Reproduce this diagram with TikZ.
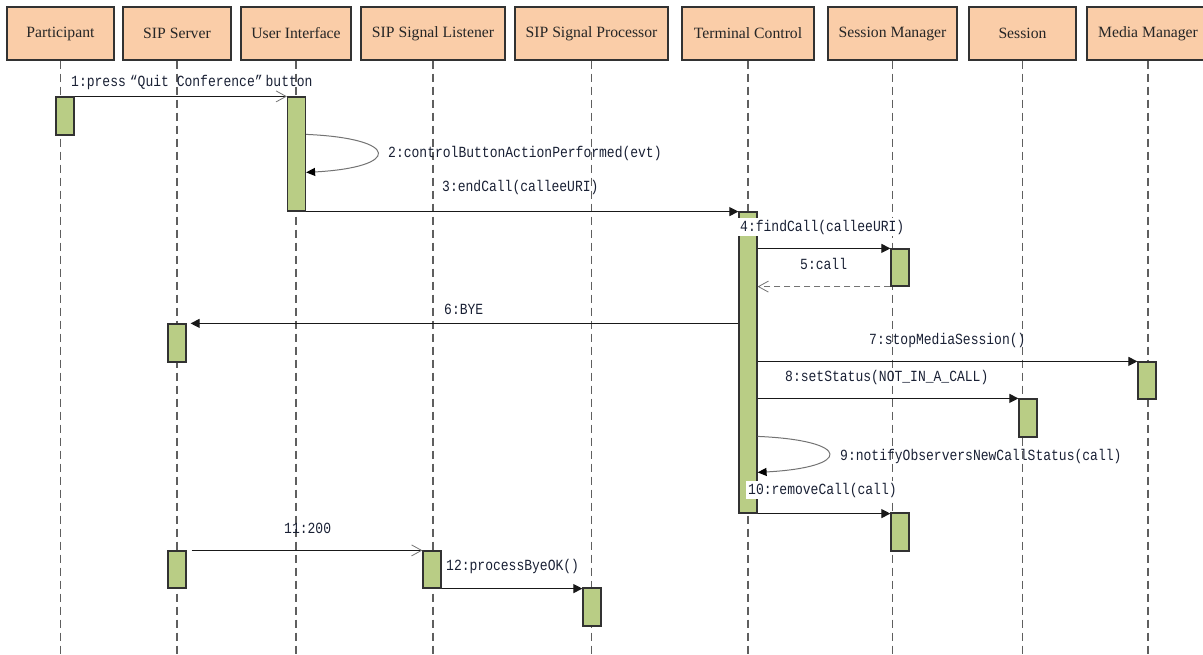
\documentclass[tikz,border=0pt]{standalone}
\usepackage{fontspec}
\setmainfont{Liberation Serif}
\newfontfamily\msgfont[FakeStretch=0.84]{Liberation Mono}
\usetikzlibrary{arrows.meta,calc}

\definecolor{headfill}{RGB}{250,205,168}
\definecolor{actfill}{RGB}{185,205,133}
\definecolor{edgeclr}{RGB}{50,50,50}
\definecolor{lifeclr}{RGB}{95,95,95}
\definecolor{msgtext}{RGB}{25,32,52}
\definecolor{loopclr}{RGB}{115,115,115}

\begin{document}
\begin{tikzpicture}[x=1pt,y=-1pt,
  head/.style={draw=edgeclr, line width=1.3pt, fill=headfill, minimum height=53pt,
    inner sep=0pt, font=\fontsize{15.7}{18}\selectfont, text=black!85},
  lifeline/.style={draw=lifeclr, line width=1.2pt, dash pattern=on 8pt off 5pt},
  act/.style={draw=edgeclr, line width=1.2pt, fill=actfill, minimum width=18pt, inner sep=0pt},
  msg/.style={font=\msgfont\fontsize{15.5}{18}\selectfont, text=msgtext, anchor=west, inner sep=0pt},
  msgbg/.style={msg, fill=white, inner sep=2pt},
  call/.style={draw=black!90, line width=1.1pt, -{Triangle[length=9pt,width=9pt]}},
  async/.style={draw=black!90, line width=1.1pt, -{Straight Barb[length=10pt,width=11pt,line width=0.8pt,color=loopclr]}},
  reply/.style={draw=loopclr, line width=1.1pt, dash pattern=on 6pt off 4pt, -{Straight Barb[length=10pt,width=11pt,line width=0.8pt]}},
  selfcall/.style={draw=loopclr, line width=1.0pt, -{Triangle[length=9pt,width=8pt,color=black]}}
]
\useasboundingbox (0,0) rectangle (1203,655);
\coordinate (bottom) at (0,655);

% participants
\node[head, minimum width=107pt] (hpa) at (60.5,33.5)  {Participant};
\node[head, minimum width=108pt] (hss) at (177,33.5)   {SIP Server};
\node[head, minimum width=110pt] (hui) at (296,33.5)   {User Interface};
\node[head, minimum width=144pt] (hli) at (433,33.5)   {SIP Signal Listener};
\node[head, minimum width=153pt] (hpr) at (591.5,33.5) {SIP Signal Processor};
\node[head, minimum width=132pt] (htc) at (748,33.5)   {Terminal Control};
\node[head, minimum width=129pt] (hsm) at (892.5,33.5) {Session Manager};
\node[head, minimum width=107pt] (hse) at (1022.5,33.5){Session};
\node[head, minimum width=122pt] (hmm) at (1148,33.5)  {Media Manager};

% lifelines
\foreach \h in {hpa,hss,hui,hli,hpr,htc,hsm,hse,hmm}
  \draw[lifeline] (\h.south) -- (\h.south |- bottom);

% activation bars
\node[act, minimum height=38pt]  (pa1) at (65,116)     {};
\node[act, minimum height=114pt] (ui1) at (296.5,154)  {};
\node[act, minimum height=301pt] (tc1) at (748,362.5)  {};
\node[act, minimum height=37pt]  (sm1) at (900,267.5)  {};
\node[act, minimum height=38pt]  (ss1) at (177,343)    {};
\node[act, minimum height=37pt]  (mm1) at (1147,380.5) {};
\node[act, minimum height=38pt]  (se1) at (1028,418)   {};
\node[act, minimum height=38pt]  (sm2) at (900,532)    {};
\node[act, minimum height=37pt]  (ss2) at (177,569.5)  {};
\node[act, minimum height=37pt]  (li1) at (432,569.5)  {};
\node[act, minimum height=38pt]  (pr1) at (592,607)    {};

% messages
\draw[async] (pa1.north east) -- (pa1.north east -| ui1.west);
\draw[selfcall] ($(ui1.north east)+(0,38)$) .. controls +(95,4) and +(95,-5) .. ($(ui1.north east)+(0,76)$);
\draw[call] (ui1.south east) -- (ui1.south east -| tc1.west);
\draw[call] (tc1.east |- sm1.north) -- (sm1.north west);
\draw[reply] (sm1.south west) -- (tc1.east |- sm1.south);
\draw[call, shorten >=4pt] (tc1.west |- ss1.north) -- (ss1.north east);
\draw[call] (tc1.east |- mm1.north) -- (mm1.north west);
\draw[call] (tc1.east |- se1.north) -- (se1.north west);
\draw[selfcall] ($(tc1.north east)+(0,225)$) .. controls +(95,4) and +(95,-5) .. ($(tc1.north east)+(0,261)$);
\draw[call] (tc1.south east) -- (tc1.south east -| sm2.west);
\draw[async, shorten <=5pt] (ss2.north east) -- (ss2.north east -| li1.west);
\draw[call] (li1.south east) -- (li1.south east -| pr1.west);

% message labels
\node[msg]   (l1)  at (71,82)   {1:press\hspace{4pt}“Quit Conference”\hspace{3pt}button};
\node[msg]   (l2)  at (388,153) {2:controlButtonActionPerformed(evt)};
\node[msg]   (l3)  at (442,187) {3:endCall(calleeURI)};
\node[msgbg] (l4)  at (738,227) {4:findCall(calleeURI)};
\node[msg]   (l5)  at (800,264) {5:call};
\node[msg]   (l6)  at (444,309) {6:BYE};
\node[msg]   (l7)  at (869,340) {7:stopMediaSession()};
\node[msg]   (l8)  at (785,377) {8:setStatus(NOT\_IN\_A\_CALL)};
\node[msg]   (l9)  at (840,456) {9:notifyObserversNewCallStatus(call)};
\node[msgbg] (l10) at (746,490) {10:removeCall(call)};
\node[msg]   (l11) at (284,528) {11:200};
\node[msg]   (l12) at (446,566) {12:processByeOK()};
\end{tikzpicture}
\end{document}
